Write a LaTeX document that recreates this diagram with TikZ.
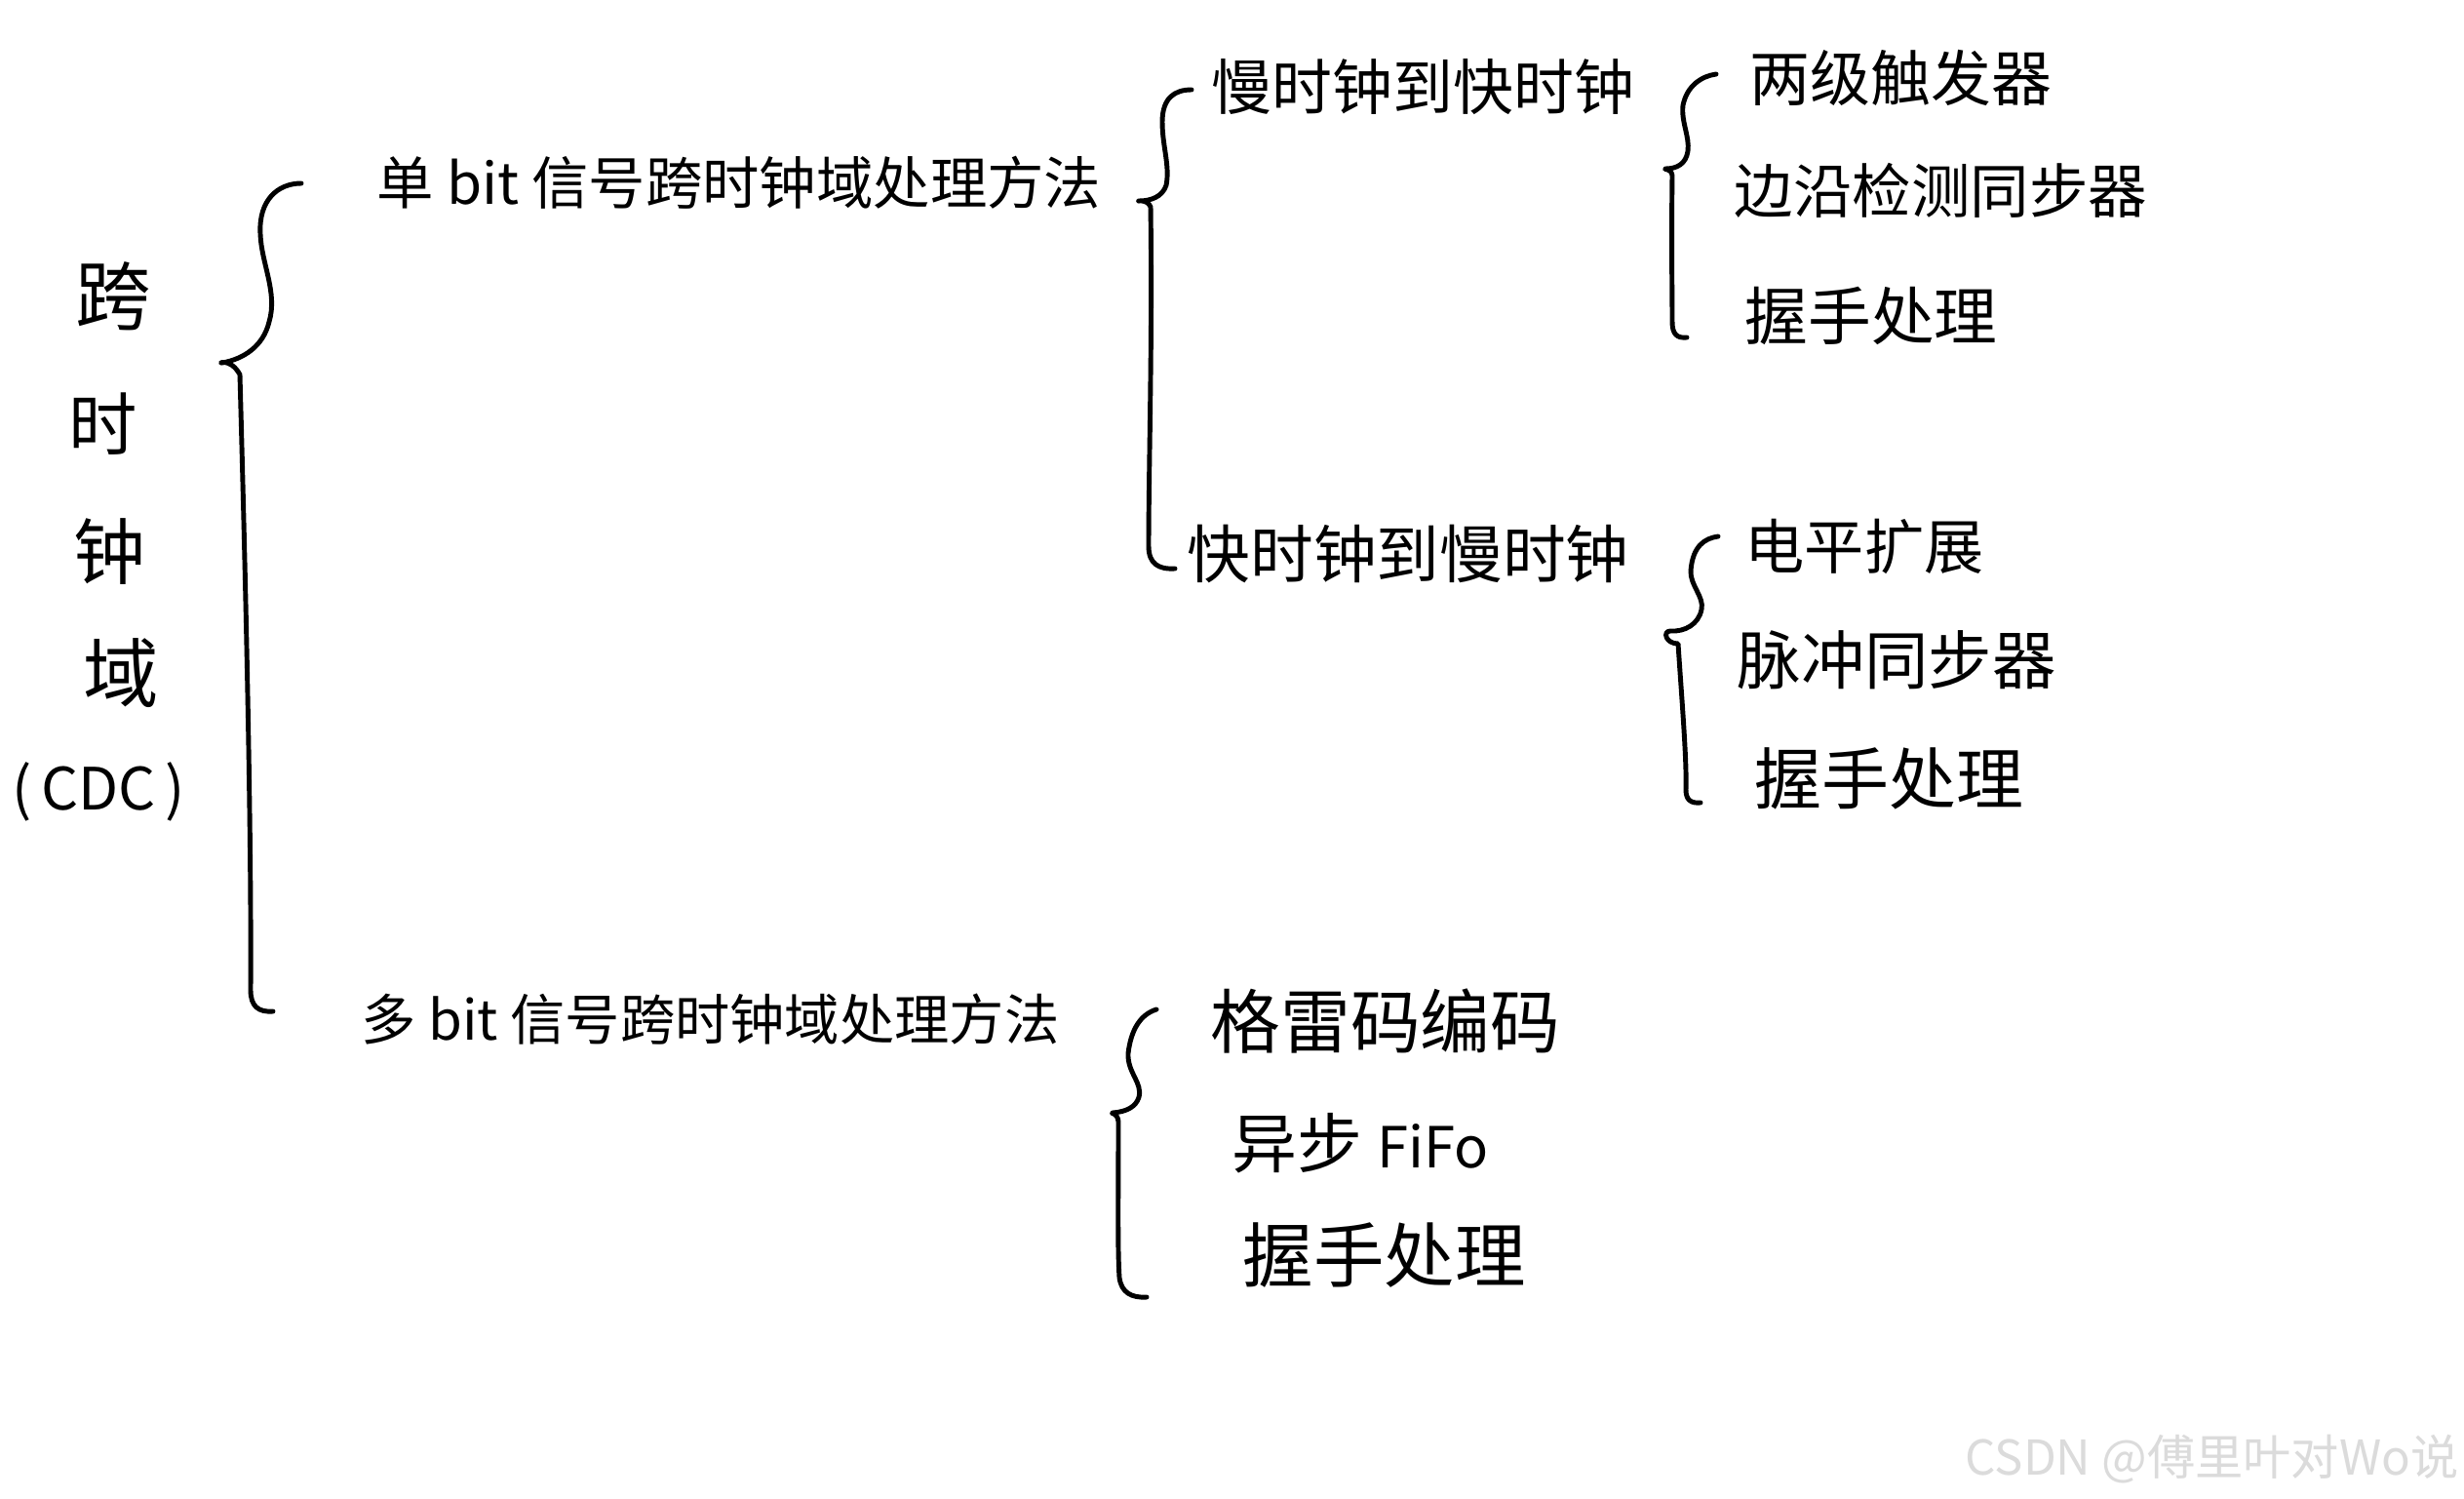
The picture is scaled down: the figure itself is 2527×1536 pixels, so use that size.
\documentclass[tikz,border=0pt]{standalone}
\usepackage{fontspec}
\setmainfont{Noto Sans CJK SC}
\newcommand{\fsz}[1]{\fontsize{#1}{#1}\selectfont}
\begin{document}
\begin{tikzpicture}[x=0.01cm,y=-0.01cm,
  lbl/.style={inner sep=0pt, anchor=west, text=black},
  ch/.style={inner sep=0pt, anchor=center, text=black},
  brace/.style={draw=black, line width=1.4pt, line cap=round, line join=round}]
\useasboundingbox[fill=white] (0,0) rectangle (2527,1536);

% root (vertical text)
\node[ch,font=\fsz{22}] (r1) at (116,304) {跨};
\node[ch,font=\fsz{20}] (r2) at (106,435) {时};
\node[ch,font=\fsz{21}] (r3) at (112,566) {钟};
\node[ch,font=\fsz{22}] (r4) at (124,690) {域};
\node[ch,font=\fsz{17}] (rcdc) at (101,812) {(\,CDC\,)};

% level 1
\node[lbl,font=\fsz{16.6}] (single) at (386,187) {单 bit 信号跨时钟域处理方法};
\node[lbl,font=\fsz{16}] (multi) at (370,1045) {多 bit 信号跨时钟域处理方法};

% level 2
\node[lbl,font=\fsz{17.6}] (s2f) at (1242,89) {慢时钟到快时钟};
\node[lbl,font=\fsz{18.4}] (f2s) at (1217,568) {快时钟到慢时钟};

% level 3 (slow to fast)
\node[lbl,font=\fsz{17.6}] (a1) at (1794,80) {两级触发器};
\node[lbl,font=\fsz{17.2}] (a2) at (1778,195) {边沿检测同步器};
\node[lbl,font=\fsz{18.4}] (a3) at (1789,324) {握手处理};

% level 3 (fast to slow)
\node[lbl,font=\fsz{17.4}] (b1) at (1789,560) {电平扩展};
\node[lbl,font=\fsz{18.6}] (b2) at (1781,677) {脉冲同步器};
\node[lbl,font=\fsz{19.6}] (b3) at (1799,798) {握手处理};

% level 2 (multi bit)
\node[lbl,font=\fsz{20.4}] (c1) at (1241,1047) {格雷码编码};
\node[lbl,font=\fsz{19}] (c2) at (1263,1172) {异步 {\fsz{16.5}FiFo}};
\node[lbl,font=\fsz{20.6}] (c3) at (1274,1287) {握手处理};

% braces
\coordinate (br1) at (309,188);
\coordinate (br2) at (1222,92);
\coordinate (br3) at (1760,76);
\coordinate (br4) at (1762,550);
\coordinate (br5) at (1186,1035);

\draw[brace] (br1) .. controls (285,188) and (265,205) .. (267,240)
  .. controls (268,270) and (285,300) .. (276,330)
  .. controls (270,355) and (250,368) .. (228,372)
  .. controls (222,373) and (236,366) .. (246,384)
  .. controls (252,600) and (258,850) .. (257,1015)
  .. controls (257,1032) and (265,1038) .. (280,1037);

\draw[brace] (br2) .. controls (1205,92) and (1192,100) .. (1192,125)
  .. controls (1192,150) and (1200,170) .. (1196,190)
  .. controls (1192,202) and (1180,206) .. (1168,206)
  .. controls (1164,207) and (1176,203) .. (1180,212)
  .. controls (1182,350) and (1178,480) .. (1178,560)
  .. controls (1178,578) and (1188,584) .. (1205,583);

\draw[brace] (br3) .. controls (1745,78) and (1730,88) .. (1726,108)
  .. controls (1724,125) and (1733,140) .. (1731,155)
  .. controls (1729,168) and (1720,173) .. (1708,173)
  .. controls (1705,174) and (1714,172) .. (1715,180)
  .. controls (1714,250) and (1715,300) .. (1715,330)
  .. controls (1715,343) and (1720,347) .. (1730,346);

\draw[brace] (br4) .. controls (1748,552) and (1736,560) .. (1734,585)
  .. controls (1733,600) and (1748,612) .. (1745,625)
  .. controls (1742,640) and (1728,648) .. (1713,647)
  .. controls (1705,647) and (1708,660) .. (1721,660)
  .. controls (1725,720) and (1730,780) .. (1729,810)
  .. controls (1729,820) and (1734,824) .. (1744,823);

\draw[brace] (br5) .. controls (1170,1040) and (1160,1055) .. (1157,1080)
  .. controls (1156,1100) and (1172,1110) .. (1168,1125)
  .. controls (1165,1135) and (1155,1140) .. (1141,1141)
  .. controls (1138,1142) and (1146,1140) .. (1147,1150)
  .. controls (1147,1220) and (1146,1280) .. (1148,1310)
  .. controls (1150,1325) and (1160,1331) .. (1176,1330);

% watermark
\node[inner sep=0pt, anchor=east, text=black!14, font=\fsz{14}] (wm) at (2522,1496) {CSDN @傅里叶对Wo说};
\end{tikzpicture}
\end{document}
